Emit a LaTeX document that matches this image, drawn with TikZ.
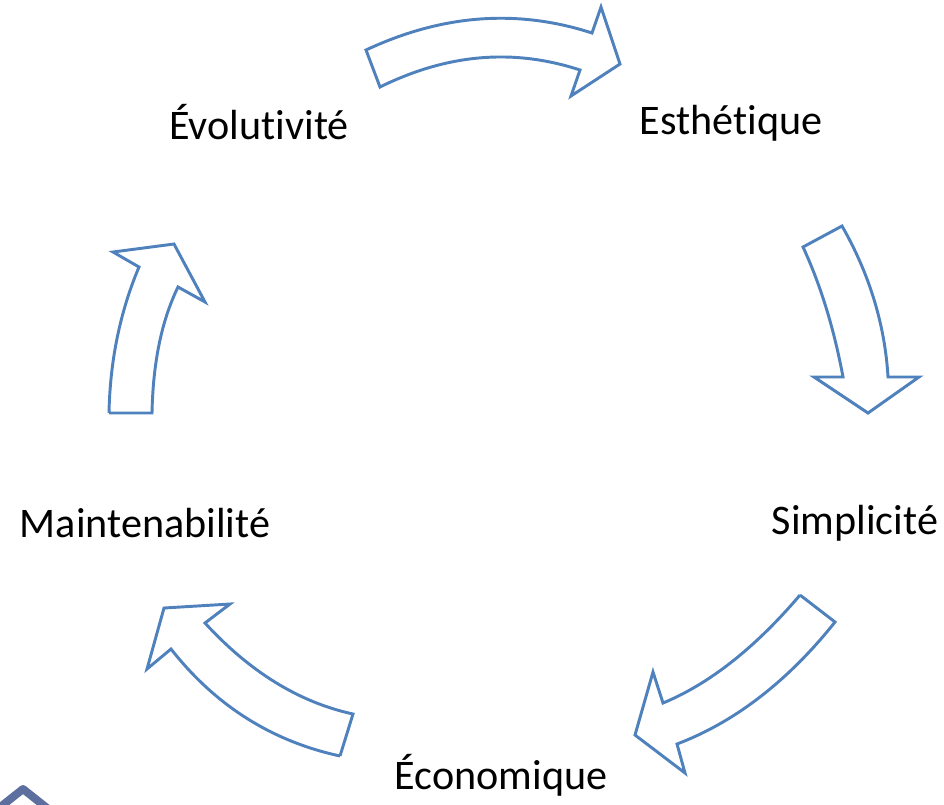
\documentclass[tikz,border=0pt]{standalone}
\usepackage{fontspec}
\setmainfont{Carlito}[Ligatures=NoCommon]
\usepackage{tikz}

\definecolor{arrowblue}{RGB}{79,129,189}
\definecolor{iconblue}{RGB}{93,111,158}

\begin{document}
\begin{tikzpicture}[x=0.75pt, y=-0.75pt,
	word/.style={anchor=base, inner sep=0pt, font=\fontsize{31.6}{38}\selectfont},
	blockarrow/.style={draw=arrowblue, line width=2.2pt, line join=miter, fill=white}]
				\clip (0,0) rectangle (944,804);
				% labels round the cycle
				\node[word] (E) at (259,139) {Évolutivité};
				\node[word] (A) at (731,134) {Esthétique};
				\node[word] (S) at (855,534) {Simplicité};
				\node[word] (C) at (501,789) {Économique};
				\node[word] (M) at (145,537) {Maintenabilité};
				% top arrow
				\draw[blockarrow] (366,50) .. controls (443,14) and (518,9) .. (592,33)
					-- (601,7) -- (620,64) -- (571,96) -- (580,70)
					.. controls (513,48) and (447,54) .. (380,87) -- cycle;
				% right arrow
				\draw[blockarrow] (842,226) .. controls (870,275) and (885,326) .. (888,377)
					-- (919,377) -- (868,413) -- (814,377) -- (843,377)
					.. controls (834,329) and (821,286) .. (803,247) -- cycle;
				% bottom right arrow
				\draw[blockarrow] (800,595) -- (835,622) .. controls (788,681) and (735,722) .. (677,744)
					-- (685,773) -- (635,735) -- (653,672) -- (663,703)
					.. controls (709,684) and (755,648) .. (800,595);
				% bottom left arrow
				\draw[blockarrow] (340,756) -- (353,714) .. controls (298,702) and (249,671) .. (205,623)
					-- (230,604) -- (164,608) -- (147,669) -- (171,649)
					.. controls (215,705) and (271,741) .. (340,756);
				% left arrow
				\draw[blockarrow] (109,413) -- (152,413) .. controls (153,364) and (161,322) .. (178,287)
					-- (205,302) -- (174,244) -- (113,252) -- (139,267)
					.. controls (120,312) and (110,361) .. (109,413);
				% corner icon, cut off by the page
				\draw[iconblue, line width=6pt, line join=round, line cap=round] (-6,812) -- (23,789) -- (52,812);
			\end{tikzpicture}
\end{document}
